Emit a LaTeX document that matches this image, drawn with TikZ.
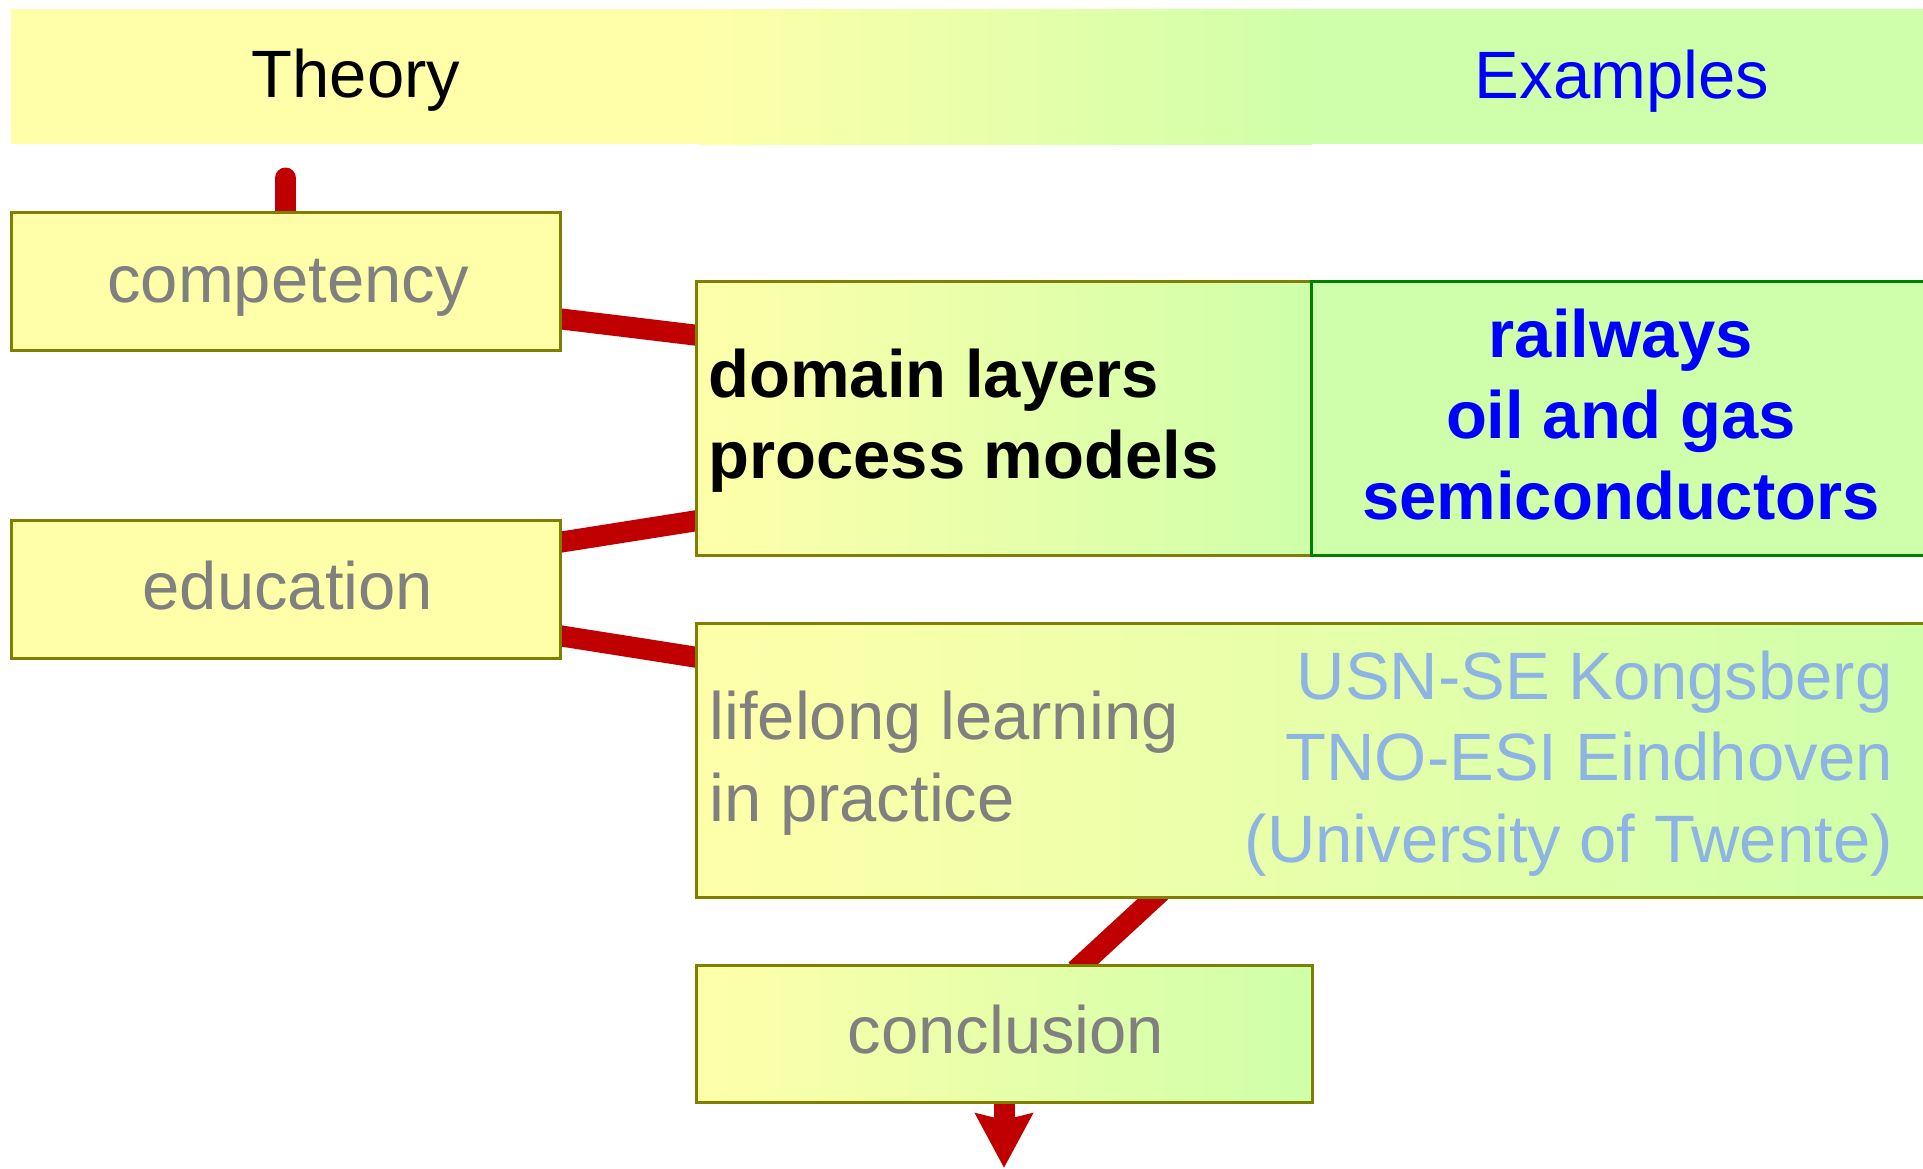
\documentclass[tikz,border=0pt]{standalone}
\usepackage{fontspec}
\setmainfont{Liberation Sans}
\usetikzlibrary{arrows.meta,backgrounds,calc,fit}

\definecolor{paleyellow}{HTML}{FFFFAA}
\definecolor{palegreen}{HTML}{CFFFAA}
\definecolor{boxolive}{HTML}{808000}
\definecolor{boxgreen}{HTML}{008000}
\definecolor{linkred}{HTML}{C00000}
\definecolor{softgray}{HTML}{808080}
\definecolor{softblue}{HTML}{8EB4E3}

\tikzset{
  bigtext/.style={font=\fontsize{33.5pt}{40.75pt}\selectfont, inner sep=0pt},
  boldtext/.style={font=\fontsize{33.5pt}{40.5pt}\selectfont\bfseries, inner sep=0pt},
  plainbox/.style={draw=boxolive, line width=1.5pt, fill=paleyellow, inner sep=0pt},
  gradbox/.style={draw=boxolive, line width=1.5pt, left color=paleyellow, right color=palegreen, inner sep=0pt},
  greenbox/.style={draw=boxgreen, line width=1.5pt, fill=palegreen, inner sep=0pt},
  link/.style={draw=linkred, line width=10.5pt},
  longlink/.style={link, shorten <=-5pt, shorten >=-5pt}
}

\begin{document}
\begin{tikzpicture}[x=0.5pt, y=-0.5pt]
\useasboundingbox (0,0) rectangle (1923,1168);

% header band: yellow on the left, fading into green on the right
\fill[paleyellow] (11,9) rectangle (700,144);
\fill[palegreen] (1311,9) rectangle (1923,144);
\shade[left color=paleyellow, right color=palegreen] (699,9) rectangle (1312,144);
\node[bigtext, anchor=base] (theory) at (356,97) {Theory};
\node[bigtext, anchor=base, text=blue] (examples) at (1622,98) {Examples};
\coordinate (theoryfoot) at (285.5,178);

% boxes
\node[plainbox, fit={(11,212)(560,350)}] (comp) {};
\node[plainbox, fit={(11,520)(560,658)}] (edu) {};
\node[gradbox, fit={(696,281)(1311,555)}] (dom) {};
\node[greenbox, fit={(1311,281)(1935,555)}] (ex) {};
\node[gradbox, fit={(696,623)(1935,897)}] (life) {};
\node[gradbox, fit={(696,965)(1312,1102)}] (concl) {};
\coordinate (down) at (1004,1168);

% box texts (multi-line nodes are placed by the baseline of their last line)
\node[bigtext, text=softgray, anchor=base] (comptext) at (288,302) {competency};
\node[bigtext, text=softgray, anchor=base] (edutext) at (288,609) {education};
\node[bigtext, text=softgray, anchor=base] (concltext) at (1006,1053) {conclusion};
\node[boldtext, align=left, anchor=base west] (domtext) at (708,478)
  {domain layers\\process models};
\node[boldtext, text=blue, align=center, anchor=base] (extext) at (1621,519)
  {railways\\oil and gas\\semiconductors};
\node[bigtext, text=softgray, align=left, anchor=base west] (lifetext) at (709,821)
  {lifelong learning\\in practice};
\node[bigtext, text=softblue, align=right, anchor=base east] (sites) at (1893,862)
  {USN-SE Kongsberg\\TNO-ESI Eindhoven\\(University of Twente)};

% connectors behind the boxes
\begin{scope}[on background layer]
  \draw[link, line cap=round, shorten >=-6pt] (theoryfoot) -- (comp.north);
  \draw[longlink] ($(comp.east)+(0,38)$) -- ($(dom.west)+(0,-83)$);
  \draw[longlink] ($(edu.east)+(0,-47)$) -- ($(dom.west)+(0,103)$);
  \draw[longlink] ($(edu.east)+(0,47)$) -- ($(life.west)+(0,-103)$);
  \draw[longlink] ($(life.south west)+(459,0)$) -- ($(concl.north)+(79,0)$);
  \draw[link, -{Stealth[length=27pt, width=28pt, inset=3pt]}] (concl.south) -- (down);
\end{scope}
\end{tikzpicture}
\end{document}
